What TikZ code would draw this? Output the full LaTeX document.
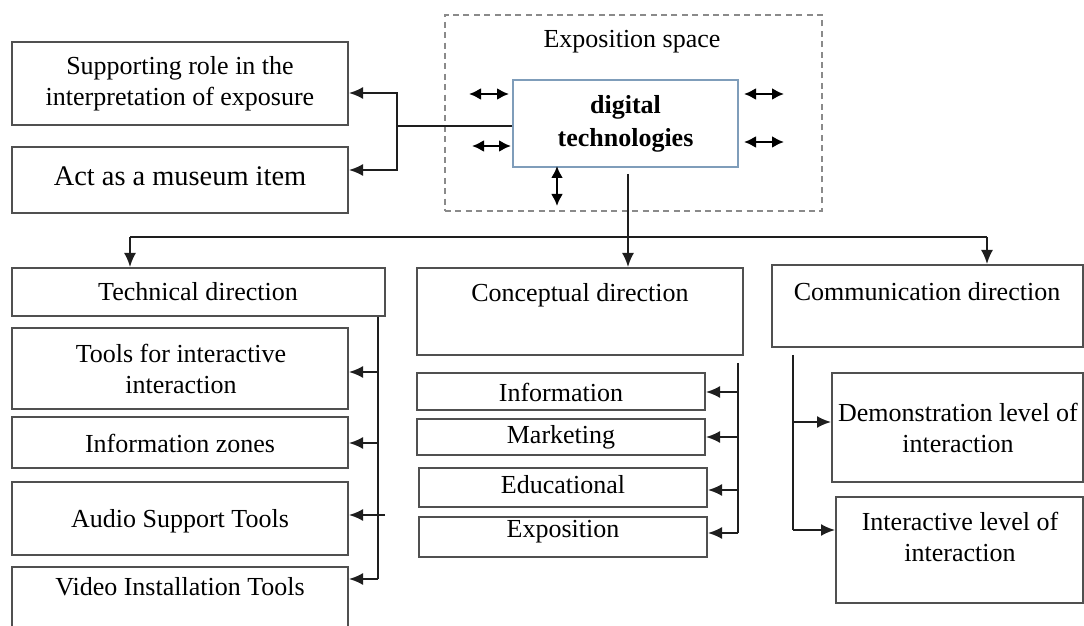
\documentclass[tikz,border=0pt]{standalone}
\usepackage{fontspec}
\setmainfont{Liberation Serif}
\usetikzlibrary{fit,arrows.meta,calc}
\definecolor{boxgray}{HTML}{505050}
\definecolor{linegray}{HTML}{1E1E1E}
\definecolor{dashgray}{HTML}{8A8A8A}
\definecolor{digblue}{HTML}{7F9DBA}
\begin{document}
\begin{tikzpicture}[x=0.5pt,y=-0.5pt,
  box/.style={draw=boxgray,line width=1pt,inner sep=0pt},
  digbox/.style={draw=digblue,line width=1pt,inner sep=0pt},
  txt/.style={font=\fontsize{13}{15.5}\selectfont,align=center,inner sep=0pt},
  bigtxt/.style={font=\fontsize{14.2}{17}\selectfont,align=center,inner sep=0pt},
  conn/.style={draw=linegray,line width=0.9pt},
  arr/.style={conn,-{Latex[length=7pt,width=6pt]}},
  dbl/.style={draw=black,line width=1.1pt,{Latex[length=6pt,width=6pt]}-{Latex[length=6pt,width=6pt]}}]
\useasboundingbox (0,0) rectangle (1084,626);
\newcommand{\mybox}[6][box]{\node[#1,fit={(#3,#4) (#5,#6)}] (#2) {};}

% exposition space
\node[draw=dashgray,line width=1pt,dash pattern=on 3pt off 2.2pt,inner sep=0pt,fit={(445,15) (822,211)}] (exp) {};
\node[txt] (expt) at (632,42) {Exposition space};
\mybox[digbox]{dig}{513}{80}{738}{167}
\node[txt,font=\fontsize{13}{16.5}\selectfont\bfseries] (digt) at (dig.center) {digital\\technologies};

% double arrows
\coordinate (l1a) at (469,94); \coordinate (l1b) at (509,94);
\coordinate (l2a) at (472,146); \coordinate (l2b) at (511,146);
\coordinate (r1a) at (744,94); \coordinate (r1b) at (784,94);
\coordinate (r2a) at (744,142); \coordinate (r2b) at (784,142);
\coordinate (vda) at (557,166); \coordinate (vdb) at (557,206);
\draw[dbl] (l1a) -- (l1b);
\draw[dbl] (l2a) -- (l2b);
\draw[dbl] (r1a) -- (r1b);
\draw[dbl] (r2a) -- (r2b);
\draw[dbl] (vda) -- (vdb);

% left group
\mybox{sup}{12}{42}{348}{125}
\node[txt] (supt) at (180,84) {Supporting role in the\\interpretation of exposure};
\mybox{act}{12}{147}{348}{213}
\node[bigtxt] (actt) at (180,176) {Act as a museum item};
\coordinate (jL) at (397,126);
\coordinate (jL1) at (397,93);
\coordinate (jL2) at (397,170);
\draw[conn] (jL -| dig.west) -- (jL);
\draw[arr] (jL) -- (jL1) -- (jL1 -| sup.east);
\draw[arr] (jL) -- (jL2) -- (jL2 -| act.east);

% technical
\mybox{tech}{12}{268}{385}{316}
\node[txt] (techt) at (198,292) {Technical direction};
\mybox{t1}{12}{328}{348}{409}
\node[txt] (t1t) at (181,369) {Tools for interactive\\interaction};
\mybox{t2}{12}{417}{348}{468}
\node[txt] (t2t) at (180,443) {Information zones};
\mybox{t3}{12}{482}{348}{555}
\node[txt] (t3t) at (180,521) {Audio Support Tools};
\mybox{t4}{12}{567}{348}{640}
\node[txt] (t4t) at (180,587) {Video Installation Tools};
\coordinate (tv) at (378,316);
\coordinate (ta1) at (378,372);
\coordinate (ta2) at (378,443);
\coordinate (ta3) at (385,515);
\coordinate (ta4) at (378,579);
\draw[conn] (tv |- tech.south) -- (ta4);
\draw[arr] (ta1) -- (ta1 -| t1.east);
\draw[arr] (ta2) -- (ta2 -| t2.east);
\draw[arr] (ta3) -- (ta3 -| t3.east);
\draw[arr] (ta4) -- (ta4 -| t4.east);

% conceptual
\mybox{con}{417}{268}{743}{355}
\node[txt] (cont) at (580,295) {Conceptual direction};
\mybox{c1}{417}{373}{705}{410}
\node[txt] (c1t) at (561,392) {Information};
\mybox{c2}{417}{419}{705}{455}
\node[txt] (c2t) at (561,437) {Marketing};
\mybox{c3}{419}{468}{707}{507}
\node[txt] (c3t) at (563,485) {Educational};
\mybox{c4}{419}{517}{707}{557}
\node[txt] (c4t) at (563,532) {Exposition};
\coordinate (cv) at (738,363);
\coordinate (ca1) at (738,392);
\coordinate (ca2) at (738,437);
\coordinate (ca3) at (738,490);
\coordinate (ca4) at (738,533);
\draw[conn] (cv) -- (ca4);
\draw[arr] (ca1) -- (ca1 -| c1.east);
\draw[arr] (ca2) -- (ca2 -| c2.east);
\draw[arr] (ca3) -- (ca3 -| c3.east);
\draw[arr] (ca4) -- (ca4 -| c4.east);

% communication
\mybox{com}{772}{265}{1083}{347}
\node[txt] (comt) at (927,292) {Communication direction};
\mybox{d1}{832}{373}{1083}{482}
\node[txt] (d1t) at (958,428) {Demonstration level of\\interaction};
\mybox{d2}{836}{497}{1083}{603}
\node[txt] (d2t) at (960,537) {Interactive level of\\interaction};
\coordinate (mv) at (793,355);
\coordinate (ma1) at (793,422);
\coordinate (ma2) at (793,530);
\draw[conn] (mv) -- (ma2);
\draw[arr] (ma1) -- (ma1 -| d1.west);
\draw[arr] (ma2) -- (ma2 -| d2.west);

% main bus
\coordinate (dT) at (628,237);
\coordinate (bL) at (130,237);
\coordinate (bR) at (987,237);
\draw[conn] (bL) -- (bR);
\draw[arr] ([yshift=-3pt]dig.south -| dT) -- (dT) -- (dT |- con.north);
\draw[arr] (bL) -- (bL |- tech.north);
\draw[arr] (bR) -- (bR |- com.north);
\end{tikzpicture}
\end{document}
